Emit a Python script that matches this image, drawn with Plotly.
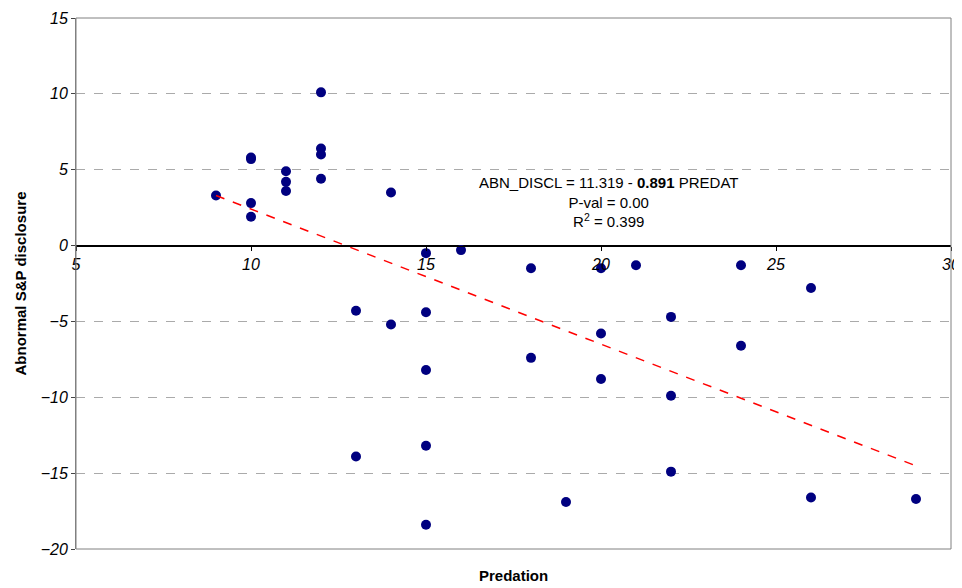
import plotly.graph_objects as go

predation = [9,10,10,10,10,11,11,11,12,12,12,12,14,13,13,14,15,15,15,15,15,16,18,18,19,20,20,20,21,22,22,22,24,24,26,26,29]
abn_discl = [3.3,5.7,5.8,2.8,1.9,4.9,4.2,3.6,10.1,6.4,6.0,4.4,3.5,-4.3,-13.9,-5.2,-0.5,-4.4,-8.2,-13.2,-18.4,-0.3,-1.5,-7.4,-16.9,-1.5,-5.8,-8.8,-1.3,-4.7,-9.9,-14.9,-1.3,-6.6,-2.8,-16.6,-16.7]
intercept, slope = 11.319, -0.891
trend_x = [9, 29]
trend_y = [intercept + slope * v for v in trend_x]

fig = go.Figure()
fig.add_trace(go.Scatter(x=predation, y=abn_discl, mode="markers",
                         marker=dict(color="#000080", size=10), showlegend=False))
fig.add_trace(go.Scatter(x=trend_x, y=trend_y, mode="lines",
                         line=dict(color="#ff0000", dash="dash", width=1.5), showlegend=False))
fig.add_annotation(x=20.2, y=2.9, xref="x", yref="y", showarrow=False,
                   text="ABN_DISCL = 11.319 - <b>0.891</b> PREDAT<br>P-val = 0.00<br>R<sup>2</sup> = 0.399",
                   font=dict(family="Liberation Sans, Arial", size=15, color="black"), align="center")
fig.add_shape(type="rect", xref="paper", yref="paper", x0=0, x1=1, y0=0, y1=1,
              line=dict(color="#808080", width=1))
fig.update_layout(
    width=962, height=588, paper_bgcolor="white", plot_bgcolor="white",
    margin=dict(l=68, r=19, t=10, b=47, autoexpand=False),
    font=dict(family="Liberation Sans, Arial", size=15, color="black"),
    xaxis=dict(range=[5, 30], dtick=5, showgrid=False, zeroline=False,
               anchor="free", position=20/35, showline=True, linecolor="black",
               ticks="outside", ticklen=4, tickcolor="black",
               tickfont=dict(size=16, style="italic"),
               title=None),
    yaxis=dict(range=[-20, 15], dtick=5, showgrid=True, gridcolor="#aaaaaa",
               griddash="dash", zeroline=True, zerolinecolor="black",
               showline=True, linecolor="#808080", ticks="outside", ticklen=4,
               tickfont=dict(size=16, style="italic"),
               title=dict(text="<b>Abnormal S&P disclosure</b>", font=dict(size=15), standoff=10)),
)
fig.add_annotation(x=0.5, y=-0.05, xref="paper", yref="paper", yanchor="middle",
                   showarrow=False, text="<b>Predation</b>", font=dict(size=15))
fig.write_html("out.html")
